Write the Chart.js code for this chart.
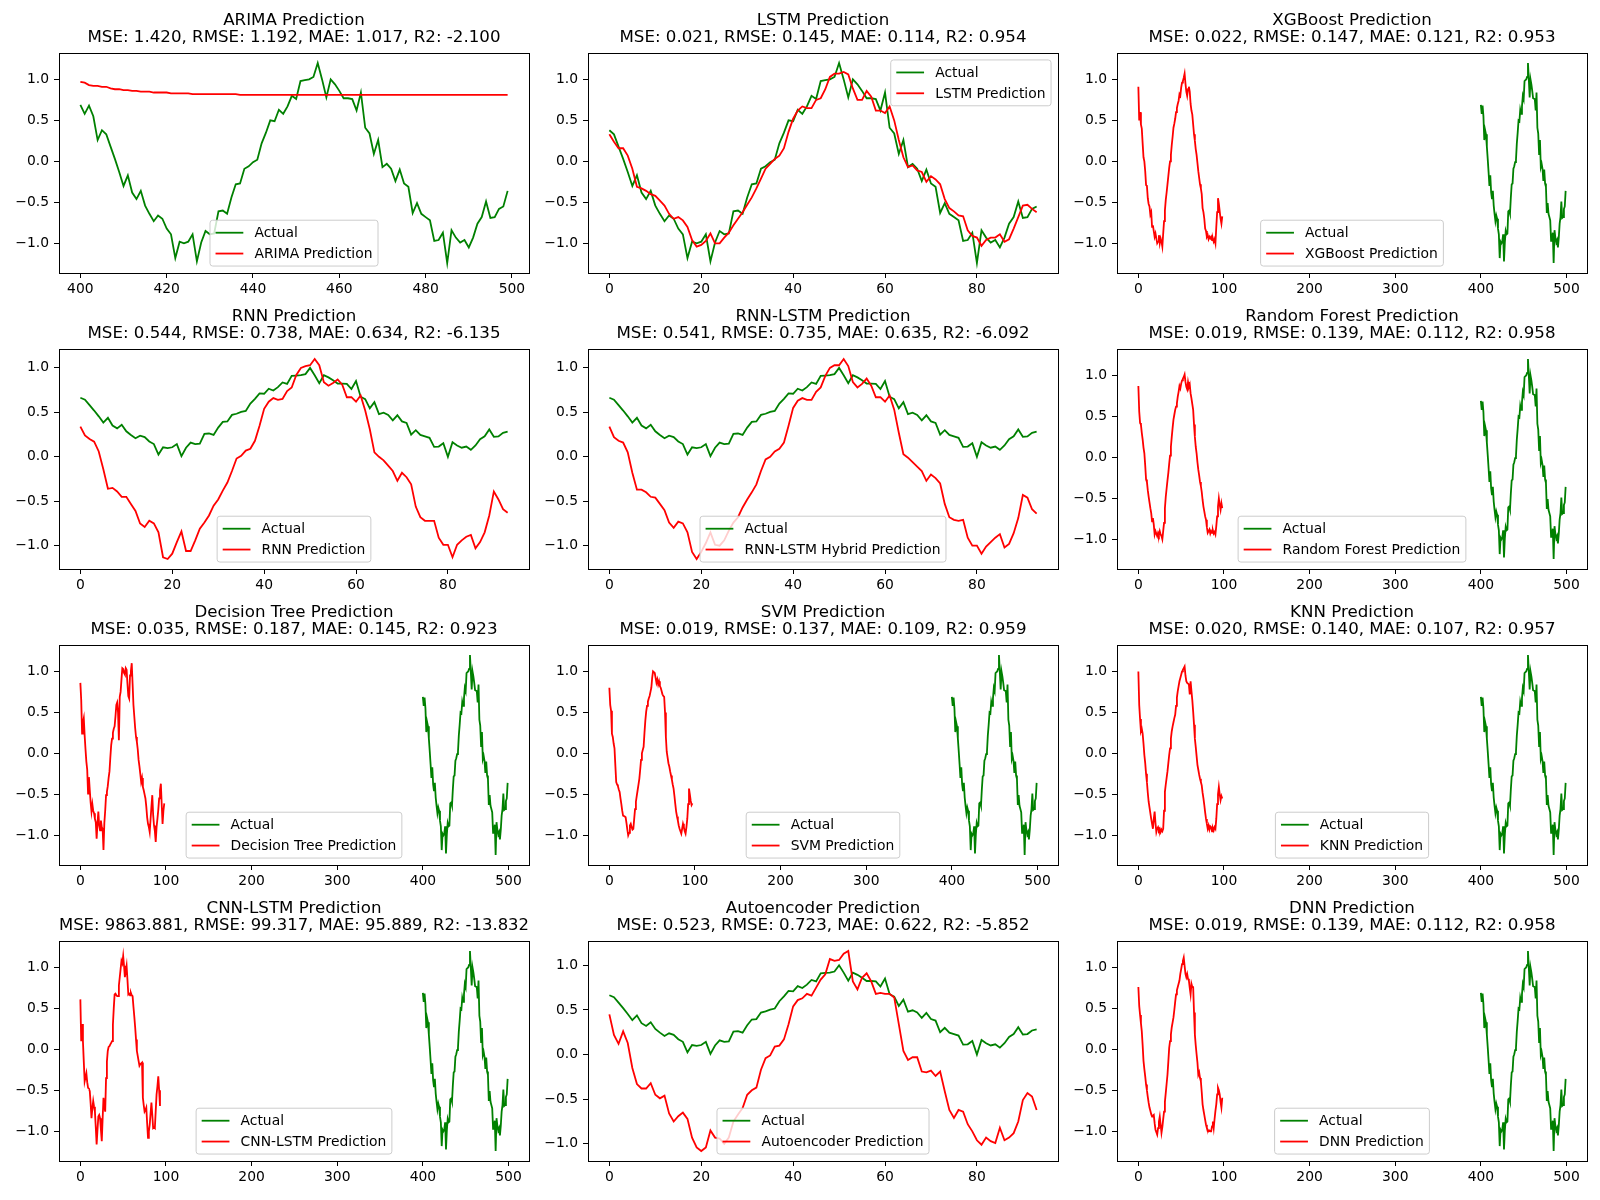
<!DOCTYPE html>
<html>
<head>
<meta charset="utf-8">
<script src="https://cdn.jsdelivr.net/npm/chart.js@4/dist/chart.umd.min.js"></script>
<style>
  body { margin: 0; background: #fff; width: 1600px; height: 1200px; position: relative; overflow: hidden; }
  canvas { position: absolute; }
</style>
</head>
<body>
<script>
// test window, x = 400..499
const actual = [
  0.69, 0.58, 0.68, 0.55, 0.26, 0.38, 0.33, 0.18, 0.03, -0.13,
  -0.30, -0.17, -0.38, -0.46, -0.36, -0.54, -0.64, -0.73, -0.66, -0.70,
  -0.82, -0.89, -1.18, -0.98, -1.00, -0.98, -0.89, -1.22, -0.99, -0.85,
  -0.89, -0.88, -0.61, -0.60, -0.64, -0.44, -0.28, -0.27, -0.09, -0.06,
  -0.01, 0.02, 0.22, 0.35, 0.50, 0.49, 0.63, 0.58, 0.67, 0.80,
  0.76, 0.98, 0.99, 1.00, 1.03, 1.20, 1.00, 0.78, 1.00, 0.94,
  0.86, 0.77, 0.77, 0.76, 0.62, 0.84, 0.41, 0.34, 0.09, 0.26,
  -0.07, -0.03, -0.09, -0.24, -0.10, -0.27, -0.31, -0.63, -0.51, -0.64,
  -0.68, -0.72, -0.97, -0.96, -0.87, -1.24, -0.84, -0.93, -0.99, -0.96,
  -1.05, -0.93, -0.76, -0.68, -0.49, -0.69, -0.68, -0.58, -0.55, -0.36
];

// same window after min-max scaling (sequence models)
const actualScaled = [
  0.664, 0.643, 0.582, 0.520, 0.455, 0.385, 0.439, 0.352, 0.320, 0.361,
  0.287, 0.246, 0.209, 0.238, 0.221, 0.172, 0.143, 0.025, 0.107, 0.098,
  0.107, 0.143, 0.008, 0.102, 0.160, 0.143, 0.148, 0.258, 0.262, 0.246,
  0.328, 0.393, 0.398, 0.471, 0.484, 0.504, 0.516, 0.598, 0.652, 0.713,
  0.709, 0.766, 0.746, 0.783, 0.836, 0.820, 0.910, 0.914, 0.918, 0.930,
  1.000, 0.918, 0.828, 0.918, 0.893, 0.861, 0.824, 0.824, 0.820, 0.762,
  0.852, 0.676, 0.648, 0.545, 0.615, 0.480, 0.496, 0.471, 0.410, 0.467,
  0.398, 0.381, 0.250, 0.299, 0.246, 0.230, 0.213, 0.111, 0.115, 0.152,
  0.000, 0.164, 0.127, 0.102, 0.115, 0.078, 0.127, 0.197, 0.230, 0.307,
  0.225, 0.230, 0.270, 0.283
];

const arimaPred = [
  0.97, 0.96, 0.93, 0.92, 0.92, 0.91, 0.91, 0.89, 0.88, 0.88,
  0.87, 0.87, 0.86, 0.86, 0.85, 0.85, 0.85, 0.84, 0.84, 0.84,
  0.84, 0.83, 0.83, 0.83, 0.83, 0.83, 0.82, 0.82, 0.82, 0.82,
  0.82, 0.82, 0.82, 0.82, 0.82, 0.82, 0.82, 0.81, 0.81, 0.81,
  0.81, 0.81, 0.81, 0.81, 0.81, 0.81, 0.81, 0.81, 0.81, 0.81,
  0.81, 0.81, 0.81, 0.81, 0.81, 0.81, 0.81, 0.81, 0.81, 0.81,
  0.81, 0.81, 0.81, 0.81, 0.81, 0.81, 0.81, 0.81, 0.81, 0.81,
  0.81, 0.81, 0.81, 0.81, 0.81, 0.81, 0.81, 0.81, 0.81, 0.81,
  0.81, 0.81, 0.81, 0.81, 0.81, 0.81, 0.81, 0.81, 0.81, 0.81,
  0.81, 0.81, 0.81, 0.81, 0.81, 0.81, 0.81, 0.81, 0.81, 0.81
];

const lstmPred = [
  0.33, 0.24, 0.16, 0.16, 0.07, -0.09, -0.31, -0.33, -0.36, -0.40,
  -0.42, -0.48, -0.54, -0.64, -0.70, -0.68, -0.72, -0.80, -0.96, -1.04,
  -1.02, -0.97, -0.88, -1.00, -1.00, -0.93, -0.87, -0.78, -0.70, -0.62,
  -0.53, -0.44, -0.33, -0.21, -0.09, -0.03, 0.03, 0.07, 0.16, 0.36,
  0.52, 0.62, 0.67, 0.65, 0.65, 0.75, 0.77, 0.88, 1.03, 1.07,
  1.07, 1.09, 1.06, 0.89, 0.75, 0.75, 0.86, 0.79, 0.62, 0.62,
  0.59, 0.67, 0.50, 0.26, 0.05, -0.07, -0.05, -0.11, -0.13, -0.25,
  -0.18, -0.22, -0.28, -0.46, -0.57, -0.61, -0.66, -0.67, -0.84, -0.91,
  -0.93, -1.03, -0.96, -0.93, -0.93, -0.89, -0.98, -0.95, -0.82, -0.68,
  -0.54, -0.53, -0.58, -0.62
];

const rnnPred = [
  0.34, 0.24, 0.20, 0.17, 0.06, -0.14, -0.36, -0.35, -0.39, -0.45,
  -0.45, -0.53, -0.61, -0.75, -0.79, -0.72, -0.75, -0.85, -1.13, -1.15,
  -1.09, -0.96, -0.84, -1.06, -1.06, -0.94, -0.81, -0.74, -0.66, -0.55,
  -0.48, -0.38, -0.29, -0.16, -0.02, 0.01, 0.07, 0.09, 0.18, 0.35,
  0.54, 0.62, 0.66, 0.64, 0.65, 0.74, 0.78, 0.92, 1.00, 1.02,
  1.03, 1.10, 1.03, 0.84, 0.80, 0.83, 0.87, 0.81, 0.67, 0.67,
  0.62, 0.69, 0.52, 0.31, 0.05, 0.00, -0.04, -0.10, -0.16, -0.27,
  -0.18, -0.23, -0.31, -0.56, -0.68, -0.72, -0.72, -0.72, -0.91, -0.99,
  -0.99, -1.13, -0.99, -0.94, -0.90, -0.88, -1.03, -0.96, -0.85, -0.66,
  -0.39, -0.48, -0.59, -0.63
];

const rnnLstmPred = [
  0.34, 0.22, 0.18, 0.16, 0.05, -0.18, -0.37, -0.37, -0.40, -0.45,
  -0.46, -0.53, -0.60, -0.74, -0.80, -0.73, -0.75, -0.85, -1.07, -1.15,
  -1.07, -0.97, -0.85, -0.99, -1.00, -0.94, -0.83, -0.74, -0.68, -0.57,
  -0.48, -0.40, -0.31, -0.16, -0.03, 0.00, 0.06, 0.09, 0.16, 0.35,
  0.55, 0.63, 0.66, 0.64, 0.64, 0.73, 0.78, 0.91, 1.00, 1.03,
  1.03, 1.10, 1.02, 0.84, 0.78, 0.82, 0.88, 0.80, 0.67, 0.67,
  0.62, 0.69, 0.53, 0.27, 0.03, -0.01, -0.06, -0.11, -0.16, -0.27,
  -0.20, -0.24, -0.30, -0.53, -0.68, -0.71, -0.72, -0.71, -0.91, -1.00,
  -1.00, -1.09, -1.01, -0.96, -0.91, -0.87, -1.02, -0.98, -0.86, -0.69,
  -0.43, -0.46, -0.59, -0.64
];

const autoencoderPred = [
  0.45, 0.22, 0.12, 0.26, 0.13, -0.15, -0.33, -0.38, -0.38, -0.32,
  -0.45, -0.49, -0.46, -0.66, -0.75, -0.69, -0.65, -0.72, -0.93, -1.04,
  -1.08, -1.04, -0.85, -0.93, -0.94, -1.00, -0.93, -0.75, -0.67, -0.60,
  -0.45, -0.40, -0.37, -0.17, -0.04, -0.01, 0.09, 0.10, 0.17, 0.34,
  0.54, 0.61, 0.63, 0.68, 0.66, 0.75, 0.84, 0.90, 1.07, 1.05,
  1.06, 1.13, 1.16, 0.82, 0.73, 0.86, 0.91, 0.82, 0.68, 0.69,
  0.68, 0.68, 0.64, 0.34, 0.04, -0.06, -0.03, -0.03, -0.19, -0.20,
  -0.18, -0.24, -0.19, -0.41, -0.62, -0.71, -0.62, -0.64, -0.78, -0.86,
  -0.96, -1.01, -0.93, -0.97, -0.99, -0.82, -0.96, -0.93, -0.88, -0.75,
  -0.51, -0.43, -0.47, -0.62
];

// tabular models, predictions indexed 0..n
const xgbPred = [
  0.91, 0.50, 0.60, 0.45, 0.40, 0.22, 0.05, 0.00, -0.12, -0.29,
  -0.30, -0.45, -0.52, -0.55, -0.65, -0.62, -0.80, -0.78, -0.85, -0.92,
  -0.88, -0.94, -1.00, -0.98, -0.90, -1.00, -0.94, -0.98, -1.04, -0.88,
  -0.73, -0.60, -0.47, -0.38, -0.28, -0.18, -0.08, 0.00, 0.08, 0.20,
  0.30, 0.41, 0.46, 0.52, 0.60, 0.65, 0.70, 0.74, 0.82, 0.80,
  0.90, 0.96, 0.98, 1.02, 1.07, 0.95, 0.85, 0.80, 0.88, 0.91,
  0.85, 0.70, 0.62, 0.57, 0.45, 0.33, 0.25, 0.15, 0.08, -0.02,
  -0.12, -0.20, -0.28, -0.33, -0.40, -0.57, -0.62, -0.70, -0.82, -0.85,
  -0.92, -0.90, -0.95, -0.92, -0.94, -0.92, -0.96, -0.94, -0.98, -0.95,
  -1.00, -0.80, -0.62, -0.45, -0.52, -0.61, -0.70, -0.76, -0.67
];

const rfPred = [
  0.87, 0.56, 0.42, 0.40, 0.30, 0.22, 0.12, 0.05, -0.10, -0.27,
  -0.30, -0.40, -0.48, -0.55, -0.62, -0.68, -0.78, -0.74, -0.82, -0.94,
  -0.90, -0.93, -0.96, -0.92, -0.95, -0.90, -0.94, -0.96, -1.00, -0.90,
  -0.80, -0.62, -0.48, -0.38, -0.28, -0.19, -0.08, 0.02, 0.13, 0.25,
  0.36, 0.46, 0.52, 0.58, 0.62, 0.66, 0.74, 0.80, 0.87, 0.84,
  0.90, 0.94, 0.96, 0.98, 1.01, 0.92, 0.86, 0.83, 0.92, 0.86,
  0.89, 0.78, 0.72, 0.65, 0.58, 0.40, 0.25, 0.13, 0.05, -0.06,
  -0.15, -0.22, -0.30, -0.35, -0.42, -0.52, -0.60, -0.66, -0.72, -0.76,
  -0.85, -0.92, -0.90, -0.88, -0.93, -0.90, -0.92, -0.89, -0.93, -0.91,
  -0.94, -0.84, -0.72, -0.60, -0.50, -0.58, -0.64, -0.56, -0.62
];

const dtPred = [
  0.86, 0.65, 0.24, 0.38, 0.43, 0.22, 0.05, -0.10, -0.20, -0.49,
  -0.29, -0.45, -0.60, -0.71, -0.62, -0.70, -0.73, -0.80, -0.84, -1.04,
  -0.85, -0.71, -0.88, -0.94, -0.82, -0.90, -0.92, -1.18, -0.85, -0.70,
  -0.51, -0.47, -0.40, -0.30, -0.22, -0.05, 0.10, 0.18, 0.25, 0.30,
  0.33, 0.45, 0.59, 0.62, 0.50, 0.16, 0.69, 0.75, 0.90, 1.04,
  1.03, 0.98, 0.96, 1.04, 1.02, 0.85, 0.70, 0.67, 0.95, 1.00,
  1.10, 0.85, 0.59, 0.45, 0.31, 0.20, 0.14, 0.05, -0.08, -0.16,
  -0.25, -0.35, -0.30, -0.41, -0.45, -0.50, -0.55, -0.65, -0.78, -0.86,
  -0.90, -0.96, -0.80, -0.65, -0.51, -0.75, -0.88, -0.95, -1.08, -0.90,
  -0.80, -0.69, -0.55, -0.45, -0.37, -0.62, -0.86, -0.70, -0.61
];

const svmPred = [
  0.80, 0.59, 0.52, 0.24, 0.20, 0.12, 0.06, -0.15, -0.35, -0.38,
  -0.40, -0.44, -0.47, -0.55, -0.62, -0.70, -0.76, -0.76, -0.77, -0.78,
  -0.85, -0.93, -1.00, -0.97, -0.88, -0.86, -0.90, -0.93, -0.92, -0.80,
  -0.68, -0.59, -0.52, -0.45, -0.38, -0.31, -0.20, -0.08, 0.00, 0.04,
  0.08, 0.25, 0.40, 0.51, 0.58, 0.63, 0.67, 0.70, 0.75, 0.80,
  0.92, 1.00, 0.99, 0.98, 0.92, 0.86, 0.90, 0.84, 0.88, 0.82,
  0.80, 0.76, 0.72, 0.70, 0.69, 0.50, 0.20, 0.02, -0.05, -0.12,
  -0.16, -0.22, -0.27, -0.32, -0.38, -0.43, -0.52, -0.62, -0.71, -0.77,
  -0.82, -0.88, -0.92, -0.95, -0.98, -0.92, -0.86, -0.90, -0.95, -0.98,
  -0.90, -0.80, -0.62, -0.43, -0.50, -0.58, -0.63, -0.61
];

const knnPred = [
  1.00, 0.59, 0.42, 0.27, 0.30, 0.24, 0.12, -0.02, -0.12, -0.25,
  -0.35, -0.48, -0.59, -0.66, -0.73, -0.80, -0.86, -0.92, -0.80, -0.71,
  -0.85, -0.96, -0.92, -0.90, -0.94, -0.92, -0.96, -0.93, -0.95, -0.92,
  -0.70, -0.47, -0.38, -0.30, -0.22, -0.12, -0.02, 0.06, 0.18, 0.27,
  0.33, 0.38, 0.43, 0.47, 0.58, 0.68, 0.76, 0.82, 0.88, 0.92,
  0.96, 1.00, 1.02, 1.04, 1.06, 0.95, 0.88, 0.86, 0.85, 0.84,
  0.72, 0.88, 0.76, 0.65, 0.51, 0.35, 0.18, 0.08, -0.03, -0.14,
  -0.20, -0.26, -0.31, -0.35, -0.39, -0.48, -0.55, -0.63, -0.72, -0.80,
  -0.86, -0.92, -0.88, -0.93, -0.89, -0.90, -0.95, -0.91, -0.94, -0.90,
  -0.92, -0.80, -0.62, -0.50, -0.41, -0.50, -0.57, -0.52, -0.55
];

const cnnLstmPred = [
  0.61, 0.10, 0.31, 0.10, -0.15, -0.39, -0.34, -0.29, -0.40, -0.47,
  -0.48, -0.51, -0.66, -0.84, -0.72, -0.63, -0.70, -0.76, -0.95, -1.16,
  -0.98, -0.82, -0.80, -0.84, -0.98, -1.12, -0.85, -0.59, -0.70, -0.76,
  -0.35, -0.15, -0.02, 0.03, 0.04, 0.06, 0.08, 0.10, 0.30, 0.50,
  0.67, 0.68, 0.66, 0.65, 0.65, 0.78, 0.88, 0.98, 1.08, 1.05,
  1.14, 1.02, 0.88, 0.95, 1.02, 0.85, 0.67, 0.68, 0.66, 0.69,
  0.66, 0.65, 0.52, 0.40, 0.27, 0.12, -0.02, -0.08, -0.14, -0.20,
  -0.18, -0.17, -0.16, -0.59, -0.68, -0.76, -0.74, -0.71, -0.90, -1.08,
  -1.00, -0.92, -0.78, -0.65, -0.80, -0.96, -0.95, -0.96, -0.75, -0.55,
  -0.45, -0.33, -0.50, -0.69
];

const dnnPred = [
  0.76, 0.53, 0.42, 0.32, 0.22, 0.05, -0.14, -0.24, -0.33, -0.43,
  -0.50, -0.58, -0.65, -0.71, -0.75, -0.79, -0.82, -0.81, -0.80, -0.90,
  -0.98, -1.01, -1.04, -0.96, -0.88, -0.82, -0.92, -1.02, -0.95, -0.85,
  -0.76, -0.64, -0.53, -0.42, -0.31, -0.15, 0.02, 0.10, 0.18, 0.27,
  0.33, 0.39, 0.48, 0.58, 0.67, 0.72, 0.76, 0.80, 0.84, 0.92,
  0.98, 1.04, 1.08, 1.12, 1.02, 0.92, 0.88, 0.92, 0.86, 0.84,
  0.75, 0.67, 0.80, 0.76, 0.76, 0.45, 0.18, 0.05, -0.06, -0.16,
  -0.31, -0.28, -0.35, -0.39, -0.52, -0.67, -0.74, -0.80, -0.86, -0.92,
  -0.96, -0.98, -1.00, -0.99, -1.00, -1.00, -0.94, -0.88, -0.96, -0.85,
  -0.75, -0.67, -0.55, -0.47, -0.50, -0.55, -0.64, -0.71, -0.59
];

const yTicks = [-1.0, -0.5, 0.0, 0.5, 1.0];
const xTicksWindow = [400, 420, 440, 460, 480, 500];
const xTicksSeq = [0, 20, 40, 60, 80];
const xTicksFull = [0, 100, 200, 300, 400, 500];

const FONT = '"DejaVu Sans", "Liberation Sans", sans-serif';
const FS = 13.89;      // 10pt
const TITLE_FS = 16.67; // 12pt

// axes boxes from the figure grid
const colLeft = [59, 588, 1116.5];
const rowTop = [53, 349, 645, 941];
const AX_W = 470, AX_H = 220;
const PAD_L = 58, PAD_T = 53, PAD_R = 14, PAD_B = 30;

const panels = [
  { title: 'ARIMA Prediction', metrics: 'MSE: 1.420, RMSE: 1.192, MAE: 1.017, R2: -2.100',
    act: actual, actStart: 400, pred: arimaPred, predStart: 400, label: 'ARIMA Prediction', xt: xTicksWindow, loc: 'lower center' },
  { title: 'LSTM Prediction', metrics: 'MSE: 0.021, RMSE: 0.145, MAE: 0.114, R2: 0.954',
    act: actual.slice(5, 99), actStart: 0, pred: lstmPred, predStart: 0, label: 'LSTM Prediction', xt: xTicksSeq, loc: 'upper right' },
  { title: 'XGBoost Prediction', metrics: 'MSE: 0.022, RMSE: 0.147, MAE: 0.121, R2: 0.953',
    act: actual, actStart: 400, pred: xgbPred, predStart: 0, label: 'XGBoost Prediction', xt: xTicksFull, loc: 'lower center' },
  { title: 'RNN Prediction', metrics: 'MSE: 0.544, RMSE: 0.738, MAE: 0.634, R2: -6.135',
    act: actualScaled, actStart: 0, pred: rnnPred, predStart: 0, label: 'RNN Prediction', xt: xTicksSeq, loc: 'lower center' },
  { title: 'RNN-LSTM Prediction', metrics: 'MSE: 0.541, RMSE: 0.735, MAE: 0.635, R2: -6.092',
    act: actualScaled, actStart: 0, pred: rnnLstmPred, predStart: 0, label: 'RNN-LSTM Hybrid Prediction', xt: xTicksSeq, loc: 'lower center' },
  { title: 'Random Forest Prediction', metrics: 'MSE: 0.019, RMSE: 0.139, MAE: 0.112, R2: 0.958',
    act: actual, actStart: 400, pred: rfPred, predStart: 0, label: 'Random Forest Prediction', xt: xTicksFull, loc: 'lower center' },
  { title: 'Decision Tree Prediction', metrics: 'MSE: 0.035, RMSE: 0.187, MAE: 0.145, R2: 0.923',
    act: actual, actStart: 400, pred: dtPred, predStart: 0, label: 'Decision Tree Prediction', xt: xTicksFull, loc: 'lower center' },
  { title: 'SVM Prediction', metrics: 'MSE: 0.019, RMSE: 0.137, MAE: 0.109, R2: 0.959',
    act: actual, actStart: 400, pred: svmPred, predStart: 0, label: 'SVM Prediction', xt: xTicksFull, loc: 'lower center' },
  { title: 'KNN Prediction', metrics: 'MSE: 0.020, RMSE: 0.140, MAE: 0.107, R2: 0.957',
    act: actual, actStart: 400, pred: knnPred, predStart: 0, label: 'KNN Prediction', xt: xTicksFull, loc: 'lower center' },
  { title: 'CNN-LSTM Prediction', metrics: 'MSE: 9863.881, RMSE: 99.317, MAE: 95.889, R2: -13.832',
    act: actual, actStart: 400, pred: cnnLstmPred, predStart: 0, label: 'CNN-LSTM Prediction', xt: xTicksFull, loc: 'lower center' },
  { title: 'Autoencoder Prediction', metrics: 'MSE: 0.523, RMSE: 0.723, MAE: 0.622, R2: -5.852',
    act: actualScaled, actStart: 0, pred: autoencoderPred, predStart: 0, label: 'Autoencoder Prediction', xt: xTicksSeq, loc: 'lower center' },
  { title: 'DNN Prediction', metrics: 'MSE: 0.019, RMSE: 0.139, MAE: 0.112, R2: 0.958',
    act: actual, actStart: 400, pred: dnnPred, predStart: 0, label: 'DNN Prediction', xt: xTicksFull, loc: 'lower center' }
];

const toPoints = (arr, start) => arr.map((y, i) => ({ x: start + i, y }));
const fmtY = v => (v < 0 ? '\u2212' : '') + Math.abs(v).toFixed(1);

// axes frame on all four sides, like matplotlib spines
const framePlugin = {
  id: 'frame',
  afterDatasetsDraw(chart) {
    const { ctx, chartArea: a } = chart;
    ctx.save();
    ctx.strokeStyle = '#000';
    ctx.lineWidth = 1;
    ctx.strokeRect(Math.round(a.left) + 0.5, Math.round(a.top) + 0.5,
      Math.round(a.right - a.left), Math.round(a.bottom - a.top));
    ctx.restore();
  }
};

// legend box drawn inside the plot area
function makeLegend(items, loc) {
  return {
    id: 'boxLegend',
    afterDraw(chart) {
      const { ctx, chartArea: a } = chart;
      ctx.save();
      ctx.font = FS + 'px ' + FONT;
      const textW = Math.max(...items.map(it => ctx.measureText(it.label).width));
      const pad = 0.4 * FS, hl = 2 * FS, htp = 0.8 * FS, ls = 0.5 * FS, rowH = FS, gap = 0.5 * FS;
      const w = pad * 2 + hl + htp + textW;
      const h = pad * 2 + items.length * rowH + (items.length - 1) * ls;
      let x, y;
      if (loc === 'upper right') { x = a.right - gap - w; y = a.top + gap; }
      else { x = (a.left + a.right) / 2 - w / 2; y = a.bottom - gap - h; }
      ctx.beginPath();
      if (ctx.roundRect) ctx.roundRect(x, y, w, h, 0.2 * FS); else ctx.rect(x, y, w, h);
      ctx.fillStyle = 'rgba(255,255,255,0.8)';
      ctx.fill();
      ctx.strokeStyle = '#cccccc';
      ctx.lineWidth = 1;
      ctx.stroke();
      items.forEach((it, i) => {
        const cy = y + pad + i * (rowH + ls) + rowH / 2;
        ctx.beginPath();
        ctx.moveTo(x + pad, cy);
        ctx.lineTo(x + pad + hl, cy);
        ctx.strokeStyle = it.color;
        ctx.lineWidth = 1.8;
        ctx.stroke();
        ctx.fillStyle = '#000';
        ctx.textAlign = 'left';
        ctx.textBaseline = 'middle';
        ctx.fillText(it.label, x + pad + hl + htp, cy + 1);
      });
      ctx.restore();
    }
  };
}

panels.forEach((p, k) => {
  const col = k % 3, row = Math.floor(k / 3);
  const canvas = document.createElement('canvas');
  canvas.width = PAD_L + AX_W + PAD_R;
  canvas.height = PAD_T + AX_H + PAD_B;
  canvas.style.left = (colLeft[col] - PAD_L) + 'px';
  canvas.style.top = (rowTop[row] - PAD_T) + 'px';
  document.body.appendChild(canvas);

  const actPts = toPoints(p.act, p.actStart);
  const predPts = toPoints(p.pred, p.predStart);
  const xs = actPts.concat(predPts).map(d => d.x);
  const ys = actPts.concat(predPts).map(d => d.y);
  const xLo = Math.min(...xs), xHi = Math.max(...xs);
  const yLo = Math.min(...ys), yHi = Math.max(...ys);
  const xPad = (xHi - xLo) * 0.05, yPad = (yHi - yLo) * 0.05;

  new Chart(canvas, {
    type: 'line',
    data: {
      datasets: [
        { label: 'Actual', data: actPts, borderColor: '#008000', order: 2 },
        { label: p.label, data: predPts, borderColor: '#ff0000', order: 1 }
      ]
    },
    options: {
      responsive: false,
      animation: false,
      devicePixelRatio: 1,
      layout: { padding: { left: 0, right: PAD_R, top: 0, bottom: 0 } },
      elements: {
        point: { radius: 0 },
        line: { borderWidth: 1.8, tension: 0, fill: false }
      },
      plugins: {
        legend: { display: false },
        tooltip: { enabled: false },
        title: {
          display: true,
          fullSize: false,   // centre over the plot area, not the canvas
          text: [p.title, p.metrics],
          color: '#000',
          font: { family: FONT, size: TITLE_FS, weight: 'normal', lineHeight: 1.05 },
          padding: { top: 11.6, bottom: 6.4 }
        }
      },
      scales: {
        x: {
          type: 'linear',
          min: xLo - xPad,
          max: xHi + xPad,
          afterBuildTicks: ax => { ax.ticks = p.xt.map(v => ({ value: v })); },
          afterFit: s => { s.height = PAD_B; },
          grid: { display: true, drawOnChartArea: false, drawTicks: true, tickLength: 5, color: '#000', lineWidth: 1 },
          border: { display: false },
          ticks: { autoSkip: false, maxRotation: 0, color: '#000', padding: 3,
                   font: { family: FONT, size: FS }, callback: v => String(v) }
        },
        y: {
          type: 'linear',
          min: yLo - yPad,
          max: yHi + yPad,
          afterBuildTicks: ax => { ax.ticks = yTicks.map(v => ({ value: v })); },
          afterFit: s => { s.width = PAD_L; },
          grid: { display: true, drawOnChartArea: false, drawTicks: true, tickLength: 5, color: '#000', lineWidth: 1 },
          border: { display: false },
          ticks: { color: '#000', padding: 5, font: { family: FONT, size: FS }, callback: v => fmtY(v) }
        }
      }
    },
    plugins: [framePlugin, makeLegend([
      { label: 'Actual', color: '#008000' },
      { label: p.label, color: '#ff0000' }
    ], p.loc)]
  });
});
</script>
</body>
</html>
